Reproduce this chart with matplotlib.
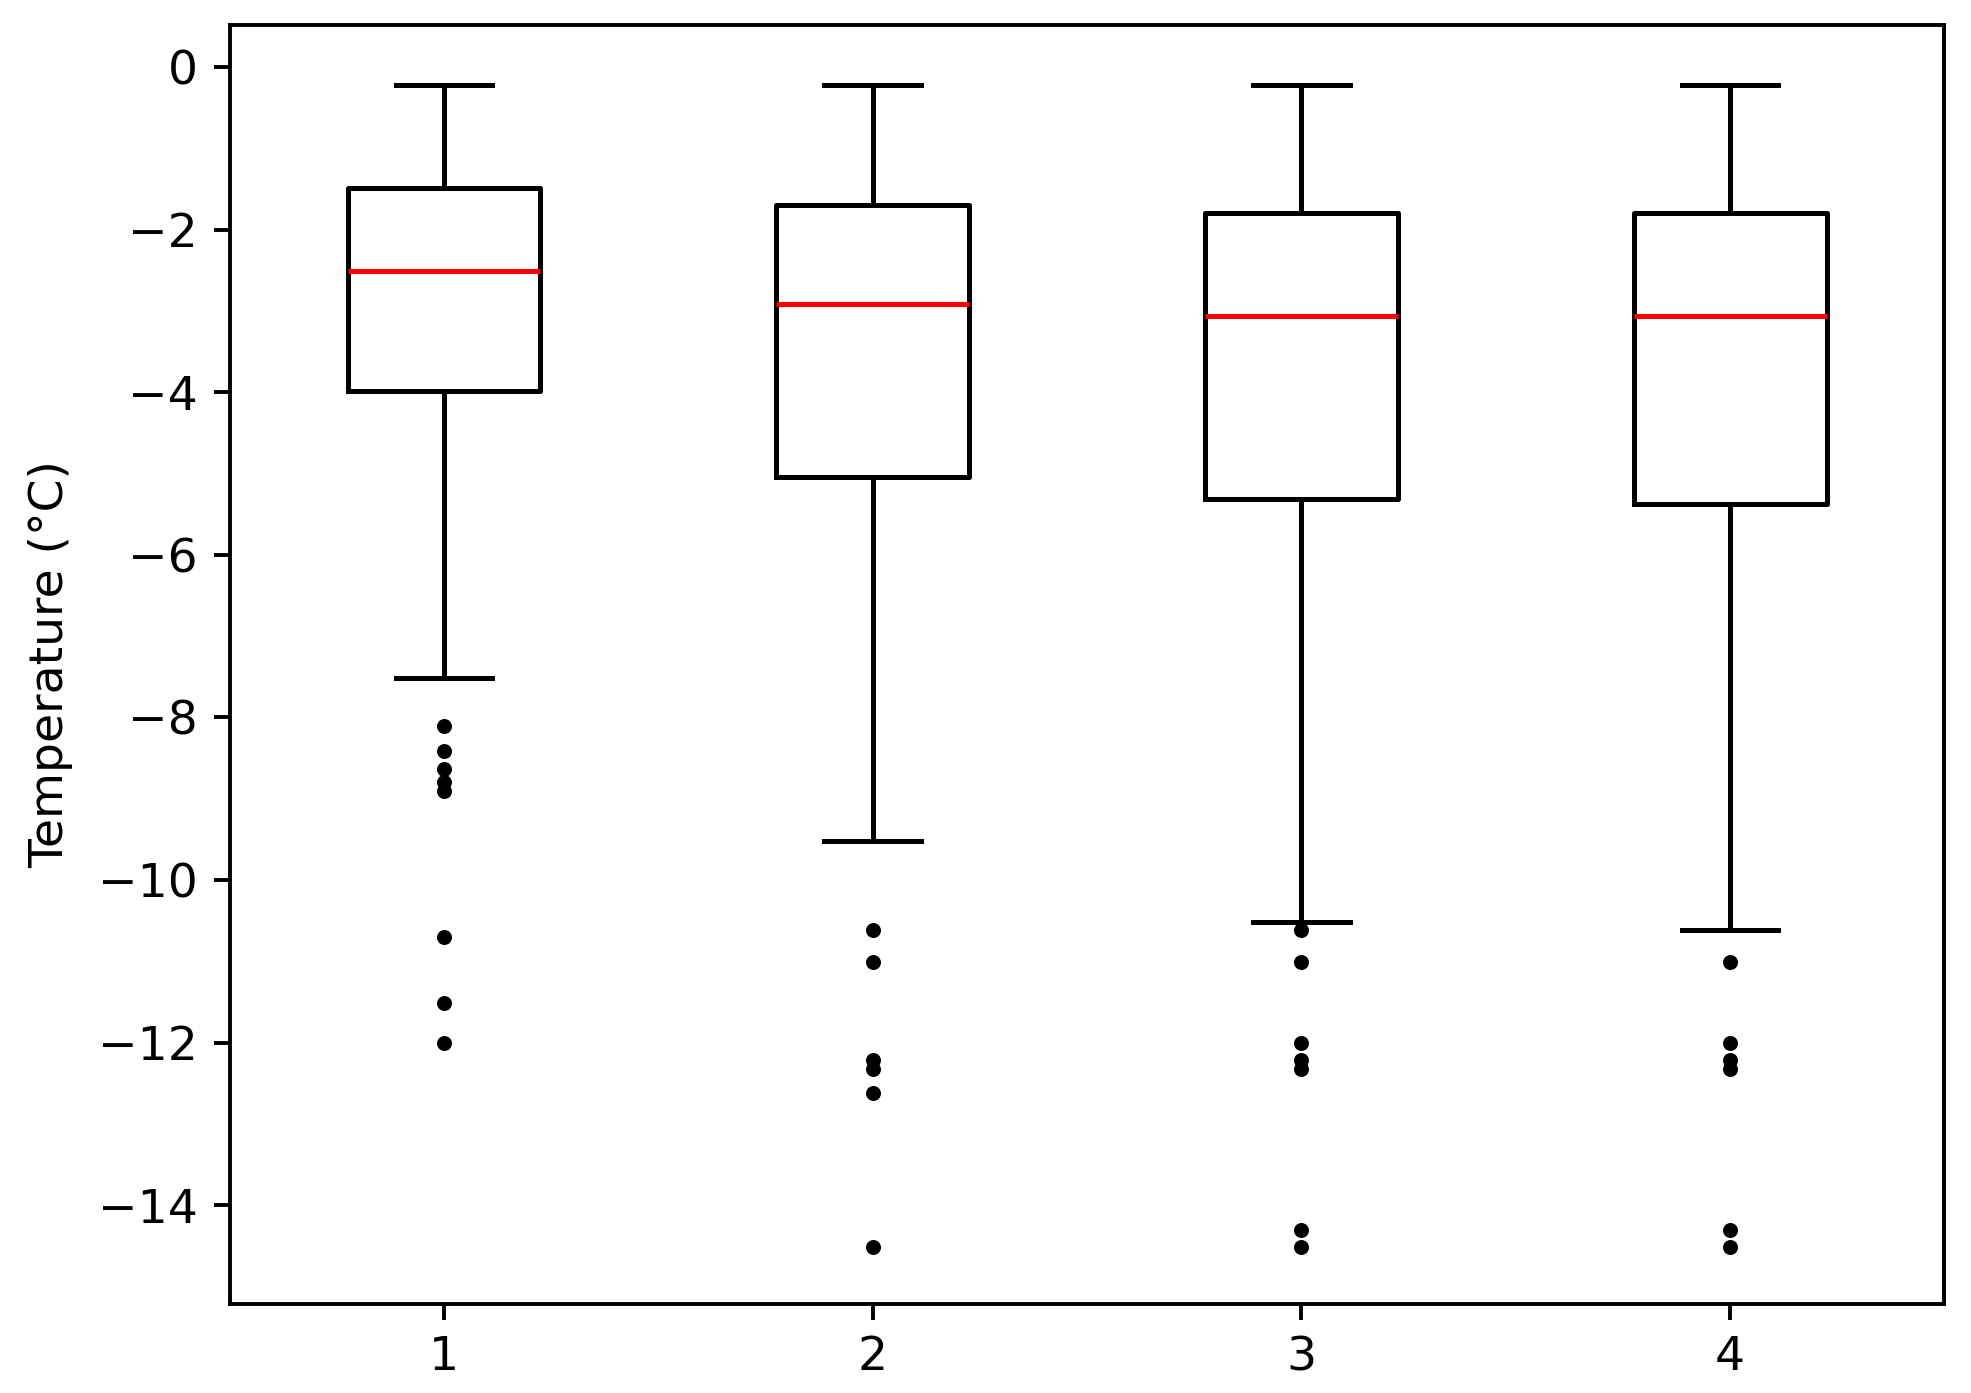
import matplotlib
matplotlib.use("Agg")
import matplotlib.pyplot as plt

labels = ["1", "2", "3", "4"]
whis_high = [-0.225, -0.225, -0.225, -0.225]
q3_vals = [-1.49, -1.70, -1.79, -1.79]
medians = [-2.51, -2.92, -3.06, -3.06]
q1_vals = [-3.98, -5.045, -5.31, -5.37]
whis_low = [-7.52, -9.52, -10.52, -10.62]
fliers_1 = [-8.11, -8.41, -8.63, -8.80, -8.91, -10.70, -11.515, -12.01]
fliers_2 = [-10.62, -11.01, -12.22, -12.32, -12.62, -14.52]
fliers_3 = [-10.62, -11.01, -12.01, -12.21, -12.32, -14.31, -14.52]
fliers_4 = [-11.01, -12.01, -12.21, -12.32, -14.31, -14.52]
fliers_all = [fliers_1, fliers_2, fliers_3, fliers_4]

stats = []
for i, lab in enumerate(labels):
    stats.append(dict(label=lab, med=medians[i], q1=q1_vals[i], q3=q3_vals[i],
                      whislo=whis_low[i], whishi=whis_high[i], fliers=fliers_all[i]))

fig = plt.figure(figsize=(9.855, 6.965), dpi=200)
ax = fig.add_axes([0.1165, 0.0642, 0.870, 0.918])

lw = 1.8
ax.bxp(stats, showfliers=True,
       boxprops=dict(color="black", linewidth=lw),
       whiskerprops=dict(color="black", linewidth=lw),
       capprops=dict(color="black", linewidth=lw),
       medianprops=dict(color="red", linewidth=lw),
       flierprops=dict(marker="o", markerfacecolor="black", markeredgecolor="black",
                       markersize=5.4, markeredgewidth=0, linestyle="none"))

ax.set_ylim(-15.21, 0.52)
ax.set_xlim(0.5, 4.5)
ax.set_yticks([0, -2, -4, -6, -8, -10, -12, -14])
ax.set_ylabel("Temperature (°C)", fontsize=17, labelpad=9)
ax.tick_params(labelsize=17, length=5.9, width=1.4, pad=5.5)
for s in ax.spines.values():
    s.set_linewidth(1.4)

fig.savefig("out.png", dpi=200)
